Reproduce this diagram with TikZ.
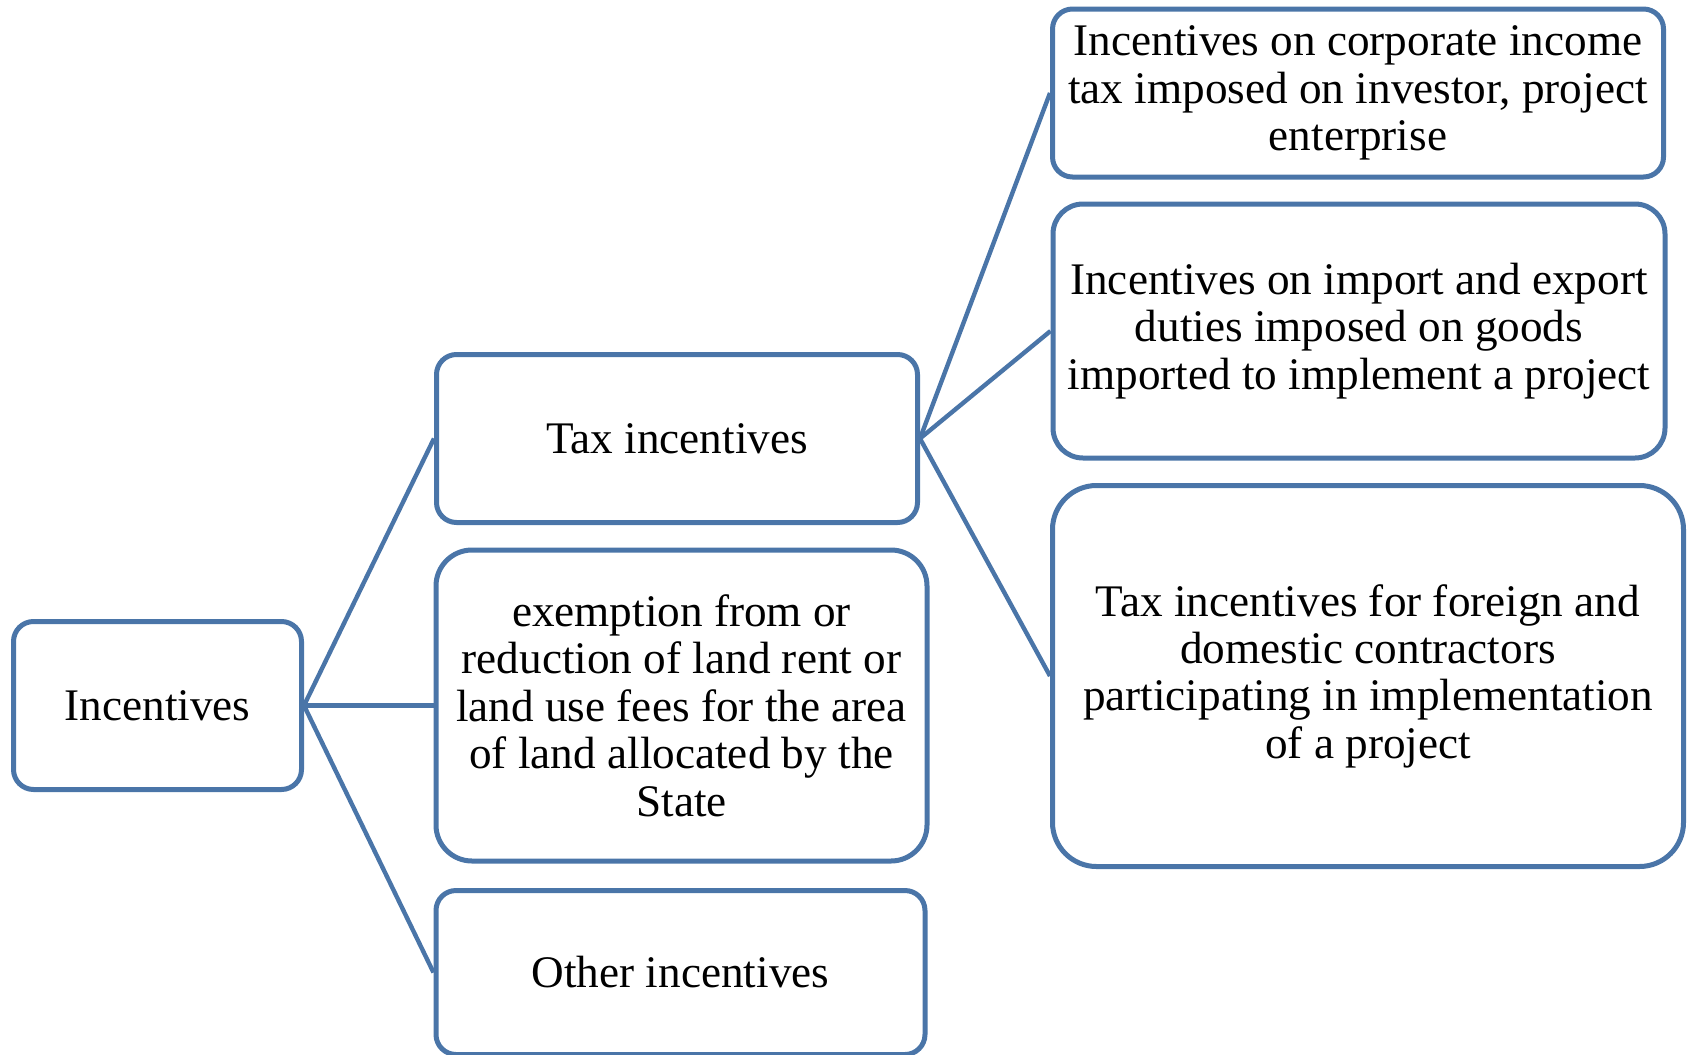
\documentclass[tikz,border=0pt]{standalone}
\usepackage{fontspec}
\setmainfont{Liberation Serif}
\definecolor{boxblue}{RGB}{74,117,168}
\tikzset{
  box/.style={draw=boxblue, line width=2.5pt, align=center, inner sep=2pt,
    font=\fontsize{22.6}{23.7}\selectfont},
  link/.style={draw=boxblue, line width=2.2pt}
}
\begin{document}
\begin{tikzpicture}[x=0.5pt, y=-0.5pt]
\useasboundingbox (0,0) rectangle (1687,1055);

% Draw the boxes
\node[box, rounded corners=10pt, minimum width=144pt, minimum height=84pt] (inc) at (157.5, 705.5) {Incentives};
\node[box, rounded corners=10pt, minimum width=240.5pt, minimum height=84pt] (tax) at (677, 438.5) {Tax incentives};
\node[box, rounded corners=18pt, minimum width=245.5pt, minimum height=155.5pt] (landfee) at (681.5, 705.5) {exemption from or\\reduction of land rent or\\land use fees for the area\\of land allocated by the\\State};
\node[box, rounded corners=10pt, minimum width=244.5pt, minimum height=82pt] (other) at (680.5, 972.5) {Other incentives};
\node[box, rounded corners=10pt, minimum width=305.5pt, minimum height=84pt] (cit) at (1358, 93) {Incentives on corporate income\\tax imposed on investor, project\\enterprise};
\node[box, rounded corners=15pt, minimum width=306pt, minimum height=127pt] (duty) at (1359, 331) {Incentives on import and export\\duties imposed on goods\\imported to implement a project};
\node[box, rounded corners=22pt, minimum width=315.5pt, minimum height=190.5pt] (contr) at (1368, 676) {Tax incentives for foreign and\\domestic contractors\\participating in implementation\\of a project};

% Draw the connectors
\draw[link] (inc.east) -- (tax.west);
\draw[link] (inc.east) -- (landfee.west);
\draw[link] (inc.east) -- (other.west);
\draw[link] (tax.east) -- (cit.west);
\draw[link] (tax.east) -- (duty.west);
\draw[link] (tax.east) -- (contr.west);
\end{tikzpicture}
\end{document}
